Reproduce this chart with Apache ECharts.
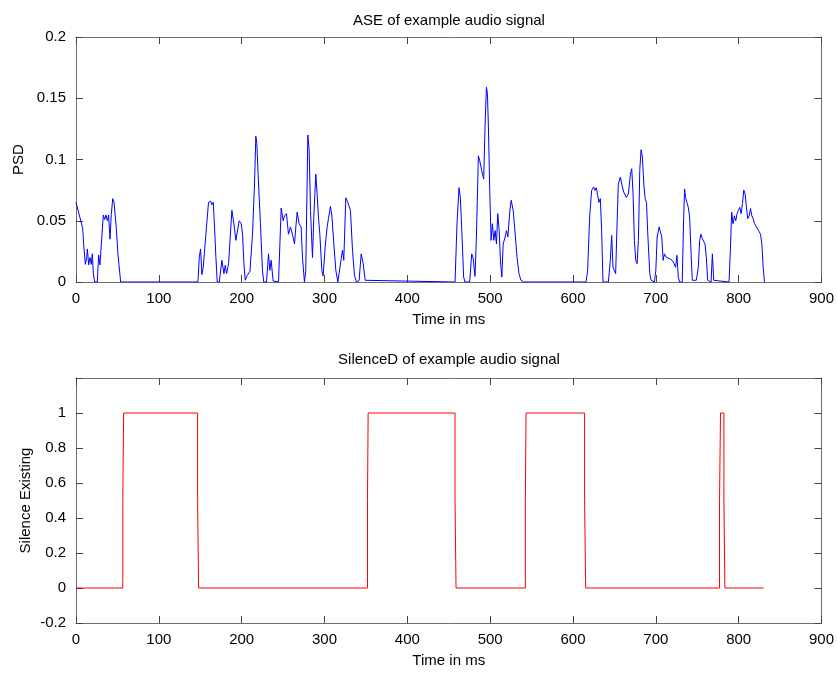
<!DOCTYPE html>
<html>
<head>
<meta charset="utf-8">
<script src="https://cdn.jsdelivr.net/npm/echarts@6/dist/echarts.min.js"></script>
<style>
html,body{margin:0;padding:0;background:#fff;}
#chart{width:837px;height:673px;}
</style>
</head>
<body>
<div id="chart"></div>
<script>
// ---- data ----
const aseTime = [0,2.4,4.8,6.4,8,9.6,11.3,12.9,13.7,15.3,16.9,18.5,19.7,20.9,22.5,25.7,27.3,28.9,30.6,33,34.6,36.2,37.8,39.4,41,42.6,44.3,45.9,48.3,50.7,53.9,
147.2,148.8,150.4,152,153.6,156.8,160,162.5,164,165.7,167.3,168.9,170.5,173,176.1,178.6,180.2,181.8,184.2,188.2,190.6,193,197,199.5,201.1,202.7,204.3,206.7,210,213.1,215.5,217.1,218.3,220.4,222.7,225.1,226.7,230,232.4,234,235.6,238,244.5,247.7,250.1,251.7,254.1,256.5,258.9,261.3,263.8,265.4,267,269.4,271.8,273.4,275.8,277.4,279.9,281.5,283.1,285.5,287.1,289.5,291.1,292.7,294.4,296.8,298.4,300.8,303.2,304.8,307.2,308.9,311.3,313.7,316.1,318.5,321.7,323.3,325.7,328.1,331.3,333.8,336.2,338.6,341.8,344.3,346.7,349.1,351.5,
457.6,460,462.4,464,465.6,468,469.6,475.3,477.7,479.3,481.7,483.4,485.8,487.4,489.8,492.2,493.9,495.5,496.7,497.9,499.5,501.1,502.7,504.4,506,507.6,509.2,510.9,512.5,514.1,515.7,518.1,519.7,521.4,523.8,525.4,527.8,530.2,532.6,534.8,537.2,540.4,
615.7,617.7,620.1,622.5,624.9,626.5,628.1,629.8,631.4,633,634.6,636.2,642.7,645.1,646.7,648.3,649.9,651.5,653.1,654.7,657.2,658.8,661.2,664.4,666.9,669.3,670.9,672.5,674.1,675.8,677.4,679,680.6,682.2,683.8,685.5,687.1,688.7,690.3,692.7,694.3,698.3,700,701.6,704,705.6,707.2,708.8,710.4,712.9,714.2,716.6,719.8,722.2,723.8,725.5,727.1,728.7,731.9,733.5,734.7,735.9,737.5,739.2,740.8,742.4,744,745.6,748.9,751.3,752.9,754.5,756.1,757.8,759.4,761,762.6,764.2,766.7,768.3,769.9,771.5,788.4,790,791.6,793.2,794.9,796.5,798.1,799.7,801.3,803,804.6,806.2,807.8,809.4,811,812.7,814.3,815.9,817.5,819.1,821.5,824,826.4,828,829.6,831.2];
const asePsd = [0.065,0.066,0.0525,0.053,0.044,0.028,0.0144,0.02,0.027,0.014,0.02,0.0144,0.023,0.0076,0,0,0.022,0.014,0.031,0.0547,0.051,0.0547,0.050,0.0547,0.035,0.055,0.068,0.065,0.047,0.0226,0,
0,0.02,0.027,0.006,0.012,0.039,0.065,0.066,0.063,0.065,0.044,0.02,0,0,0.0177,0.0068,0.0136,0.0068,0.015,0.0585,0.0476,0.034,0.050,0.0476,0.039,0.015,0.0014,0.0054,0.0087,0.039,0.080,0.119,0.113,0.080,0.0476,0.0095,0,0,0.023,0.0095,0.0177,0.0008,0,0.0604,0.050,0.054,0.0558,0.039,0.045,0.039,0.031,0.045,0.057,0.0476,0.045,0.020,0,0.0095,0.120,0.107,0.0585,0.020,0.053,0.088,0.072,0.053,0.039,0.0095,0.005,0.0286,0.045,0.0517,0.0618,0.054,0.031,0.0095,0,0,0.026,0.0177,0.0688,0.065,0.0585,0.026,0.0054,0,0.0014,0.023,0.015,0.0014,0,
0,0.048,0.077,0.069,0.045,0.004,0,0,0.023,0.020,0.0046,0.0367,0.103,0.099,0.091,0.084,0.129,0.159,0.154,0.1265,0.0748,0.034,0.0476,0.034,0.042,0.031,0.0558,0.042,0.0163,0.004,0.031,0.0367,0.042,0.0367,0.0585,0.0667,0.0585,0.039,0.019,0.0068,0.0014,0,
0,0.0095,0.053,0.0748,0.0776,0.0748,0.077,0.0707,0.065,0.068,0.042,0,0,0.0177,0.038,0.012,0.0095,0.0068,0.045,0.080,0.0857,0.080,0.0735,0.069,0.072,0.088,0.0925,0.072,0.034,0.0177,0.015,0.034,0.091,0.108,0.102,0.080,0.068,0.065,0.039,0.0068,0.0014,0,0.0095,0.0367,0.045,0.0454,0.0367,0.0177,0.023,0.020,0.020,0.019,0.0177,0.015,0.012,0.0218,0.004,0,0,0.050,0.076,0.069,0.065,0.061,0.053,0.026,0.0014,0,0.0014,0.012,0.034,0.039,0.0354,0.0367,0.031,0.020,0.0014,0,0,0.023,0.0014,0,0,0.026,0.057,0.0476,0.054,0.050,0.0558,0.0585,0.061,0.0558,0.064,0.075,0.072,0.061,0.0517,0.054,0.060,0.054,0.0517,0.0476,0.045,0.042,0.039,0.031,0.012,0];

const silTime = [0,56.5,56.5,57.5,57.5,146.8,146.8,148,148,351.9,351.9,352.7,352.7,457.6,457.6,458.8,458.8,542.5,542.5,543.3,543.3,614,614,615.3,615.3,776.9,776.9,778.1,778.1,782.2,782.2,783.4,783.4,830];
const silVal  = [0,0,0.5,0.5,1,1,0.5,0.5,0,0,0.5,0.5,1,1,0.5,0.5,0,0,0.5,0.5,1,1,0.5,0.5,0,0,0.5,0.5,1,1,0.5,0.5,0,0];

const xTicks = [0,100,200,300,400,500,600,700,800,900];
const topYTicks = [0,0.05,0.1,0.15,0.2];
const botYTicks = [-0.2,0,0.2,0.4,0.6,0.8,1];

const titles = ['ASE of example audio signal','SilenceD of example audio signal'];
const xName = 'Time in ms';
const yNames = ['PSD','Silence Existing'];

// ---- chart ----
const FONT = "'Liberation Sans', Arial, Helvetica, sans-serif";
const FS = 15;
const lineCol = '#6e6e6e';
const tickCol = '#444';

function fmt(v){ return String(Math.round(v*1000)/1000); }

function xAxes(gi){
  return [
    {type:'value', gridIndex:gi, position:'bottom', min:0, max:900, interval:100,
     name:xName, nameLocation:'middle', nameGap:30, nameMoveOverlap:false,
     nameTextStyle:{color:'#000', fontSize:FS, fontFamily:FONT},
     axisLine:{show:true, onZero:false, lineStyle:{color:lineCol, width:1}},
     axisTick:{show:true, inside:true, length:7, lineStyle:{color:tickCol}},
     axisLabel:{color:'#000', fontSize:FS, fontFamily:FONT, margin:9,
       formatter:v=> xTicks.indexOf(v)>=0 ? String(v) : ''},
     splitLine:{show:false}},
    {type:'value', gridIndex:gi, position:'top', min:0, max:900, interval:100,
     axisLine:{show:true, onZero:false, lineStyle:{color:lineCol, width:1}},
     axisTick:{show:true, inside:true, length:7, lineStyle:{color:tickCol}},
     axisLabel:{show:false}, splitLine:{show:false}}
  ];
}
function yAxes(gi, min, max, interval, ticks, name, gap){
  const lab = v => { const r = Math.round(v*1000)/1000; return ticks.some(t=>Math.abs(t-r)<1e-9) ? fmt(r) : ''; };
  return [
    {type:'value', gridIndex:gi, position:'left', min:min, max:max, interval:interval,
     name:name, nameLocation:'middle', nameGap:gap, nameRotate:90, nameMoveOverlap:false,
     nameTextStyle:{color:'#000', fontSize:FS, fontFamily:FONT},
     axisLine:{show:true, onZero:false, lineStyle:{color:lineCol, width:1}},
     axisTick:{show:true, inside:true, length:7, lineStyle:{color:tickCol}},
     axisLabel:{color:'#000', fontSize:FS, fontFamily:FONT, margin:10, formatter:lab},
     splitLine:{show:false}},
    {type:'value', gridIndex:gi, position:'right', min:min, max:max, interval:interval,
     axisLine:{show:true, onZero:false, lineStyle:{color:lineCol, width:1}},
     axisTick:{show:true, inside:true, length:7, lineStyle:{color:tickCol}},
     axisLabel:{show:false}, splitLine:{show:false}}
  ];
}

const chart = echarts.init(document.getElementById('chart'), null, {renderer:'canvas'});
chart.setOption({
  animation:false,
  backgroundColor:'#fff',
  graphic:[
    {type:'text', x:449, y:21, style:{text:titles[0], fill:'#000', font:FS+'px '+FONT, textAlign:'center', textVerticalAlign:'middle'}},
    {type:'text', x:449, y:360, style:{text:titles[1], fill:'#000', font:FS+'px '+FONT, textAlign:'center', textVerticalAlign:'middle'}}
  ],
  grid:[
    {left:76, right:15, top:37, height:245, containLabel:false},
    {left:76, right:15, top:378, height:245, containLabel:false}
  ],
  xAxis: xAxes(0).concat(xAxes(1)),
  yAxis: yAxes(0, 0, 0.2, 0.05, topYTicks, yNames[0], 50).concat(yAxes(1, -0.2, 1.2, 0.2, botYTicks, yNames[1], 43)),
  series:[
    {type:'line', xAxisIndex:0, yAxisIndex:0, showSymbol:false, symbol:'none',
     lineStyle:{color:'#0000ff', width:1}, data: aseTime.map((t,i)=>[t, asePsd[i]])},
    {type:'line', xAxisIndex:2, yAxisIndex:2, showSymbol:false, symbol:'none',
     lineStyle:{color:'#ff0000', width:1}, data: silTime.map((t,i)=>[t, silVal[i]])}
  ]
});
</script>
</body>
</html>
